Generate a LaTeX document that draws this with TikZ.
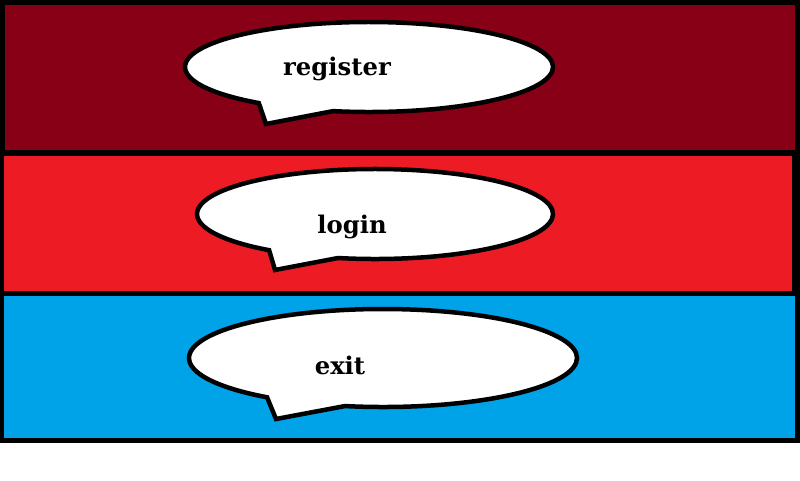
\documentclass[tikz,border=0pt]{standalone}
\usepackage{fontspec}
\usetikzlibrary{calc}
\newfontfamily\balfont{DejaVu Serif}
\definecolor{darkred}{HTML}{880015}
\definecolor{brightred}{HTML}{ED1C24}
\definecolor{paintblue}{HTML}{00A2E8}
\tikzset{
  balloon/.style={draw=black, fill=white, line width=4.5pt, line join=miter},
  ballabel/.style={font=\balfont\bfseries\fontsize{24.3}{24.3}\selectfont, inner sep=0pt, anchor=base}
}
\begin{document}
\begin{tikzpicture}[x=1pt,y=-1pt]
\useasboundingbox (0,0) rectangle (800,480);
\fill[white] (0,0) rectangle (800,480);
\fill[black] (0,0) rectangle (800,443);
\fill[darkred] (5,5) rectangle (795,150);
\fill[brightred] (4,156) rectangle (792,291);
\fill[paintblue] (4,296) rectangle (795,438);
% register balloon
\draw[balloon] ($(369,67)+(101.3:184 and 45)$) arc[start angle=101.3, end angle=-233.2, x radius=184, y radius=45] -- (266,124) -- cycle;
\node[ballabel] (register) at (337,75) {register};
% login balloon
\draw[balloon] ($(375,214)+(102:178 and 45)$) arc[start angle=102, end angle=-233.5, x radius=178, y radius=45] -- (275,270) -- cycle;
\node[ballabel] (login) at (352,233) {login};
% exit balloon
\draw[balloon] ($(383,358)+(101.3:194 and 49)$) arc[start angle=101.3, end angle=-233.3, x radius=194, y radius=49] -- (276,419) -- cycle;
\node[ballabel] (exit) at (340,374) {exit};
\end{tikzpicture}
\end{document}
